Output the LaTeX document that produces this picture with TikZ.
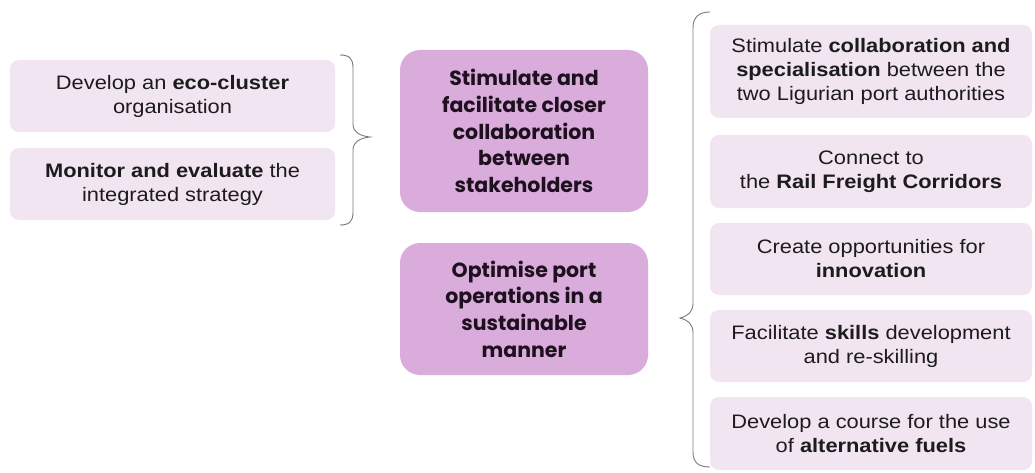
\documentclass[tikz,border=0pt]{standalone}
\usepackage{fontspec}
\setmainfont{Liberation Sans}[FakeStretch=1.12]
\newfontfamily\midfont{Poppins}
\definecolor{lightbox}{HTML}{F2E5F2}
\definecolor{midbox}{HTML}{D9ACDC}
\definecolor{bracegray}{HTML}{7A7A7A}
\definecolor{txt}{HTML}{1C1C1C}
\definecolor{midtxt}{HTML}{1E101E}
\begin{document}
\begin{tikzpicture}[x=1pt,y=-1pt,
  sidebox/.style={rectangle, rounded corners=9pt, fill=lightbox, draw=none,
    align=center, inner sep=0pt, text=txt,
    font=\fontsize{19.5}{24}\selectfont},
  midboxst/.style={rectangle, rounded corners=20pt, fill=midbox, draw=none,
    align=center, inner sep=0pt, text=midtxt,
    font=\midfont\bfseries\fontsize{20.5}{26.7}\selectfont},
  bracest/.style={draw=bracegray, line width=0.9pt}]
\useasboundingbox (0,0) rectangle (1035,473);
\fill[white] (0,0) rectangle (1035,473);

% left boxes
\node[sidebox, minimum width=325pt, minimum height=72pt] (l1) at (172.5,96)
  {Develop an \textbf{eco-cluster}\\organisation};
\node[sidebox, minimum width=325pt, minimum height=72pt] (l2) at (172.5,184)
  {\textbf{Monitor and evaluate} the\\integrated strategy};

% left brace
\draw[bracest] (340,55) .. controls (350,55) and (353,59) .. (353,68)
  -- (353,124) .. controls (353,132) and (360,136) .. (370,137)
  .. controls (360,138) and (353,142) .. (353,150)
  -- (353,212) .. controls (353,221) and (350,225) .. (340,225);

% middle boxes
\node[midboxst, minimum width=248pt, minimum height=162pt] (m1) at (524,131)
  {Stimulate and\\facilitate closer\\collaboration\\between\\stakeholders};
\node[midboxst, minimum width=248pt, minimum height=132pt] (m2) at (524,309)
  {Optimise port\\operations in a\\sustainable\\manner};

% right brace
\draw[bracest] (710,12) .. controls (699,12) and (693,17) .. (693,28)
  -- (693,303) .. controls (693,312) and (688,316) .. (680,318)
  .. controls (688,320) and (693,324) .. (693,333)
  -- (693,452) .. controls (693,463) and (699,467) .. (710,467);

% right boxes
\node[sidebox, minimum width=322pt, minimum height=93pt] (r1) at (871,71.5)
  {Stimulate \textbf{collaboration and}\\\textbf{specialisation} between the\\two Ligurian port authorities};
\node[sidebox, minimum width=322pt, minimum height=73pt] (r2) at (871,171.5)
  {Connect to\\the \textbf{Rail Freight Corridors}};
\node[sidebox, minimum width=322pt, minimum height=72pt] (r3) at (871,259)
  {Create opportunities for\\\textbf{innovation}};
\node[sidebox, minimum width=322pt, minimum height=72pt] (r4) at (871,346)
  {Facilitate \textbf{skills} development\\and re-skilling};
\node[sidebox, minimum width=322pt, minimum height=73pt] (r5) at (871,433.5)
  {Develop a course for the use\\of \textbf{alternative fuels}};
\end{tikzpicture}
\end{document}
